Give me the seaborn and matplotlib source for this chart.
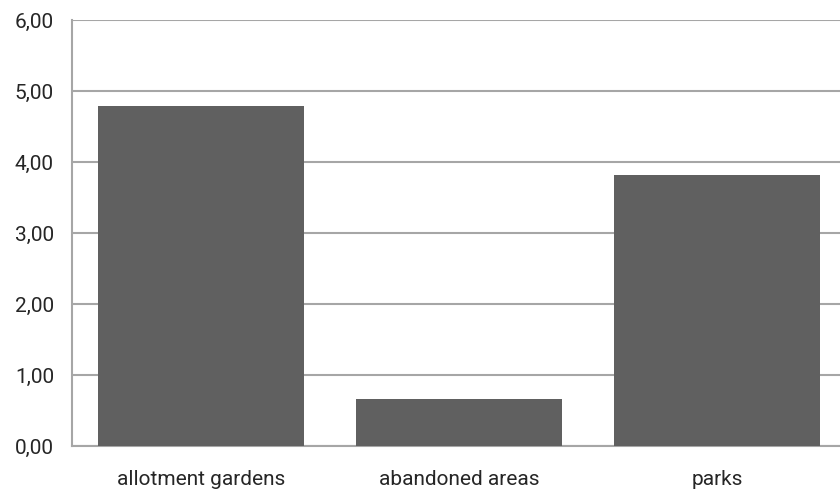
import matplotlib
matplotlib.use('Agg')
import matplotlib.pyplot as plt
import seaborn as sns
import pandas as pd

# chart data
categories = ['allotment gardens', 'abandoned areas', 'parks']
values = [4.79, 0.66, 3.82]
y_ticks = [0, 1, 2, 3, 4, 5, 6]
y_labels = ['0,00', '1,00', '2,00', '3,00', '4,00', '5,00', '6,00']

sns.set_theme(style="white")
plt.rcParams['font.family'] = ['Roboto', 'DejaVu Sans']

df = pd.DataFrame({'area': categories, 'value': values})

fig = plt.figure(figsize=(8.4, 4.92), dpi=100)
ax = fig.add_axes([72 / 840, 46 / 492, 774 / 840, 426 / 492])

sns.barplot(data=df, x='area', y='value', color='#606060', saturation=1,
            width=0.8, linewidth=0, ax=ax, zorder=3)

ax.set_xlim(-0.5, 2.5)
ax.set_ylim(0, 6)
ax.set_yticks(y_ticks)
ax.set_yticklabels(y_labels)
ax.yaxis.grid(True, color='#a6a6a6', linewidth=1.5, zorder=0)
ax.set_axisbelow(True)

for s in ['top', 'right']:
    ax.spines[s].set_visible(False)
for s in ['left', 'bottom']:
    ax.spines[s].set_color('#a6a6a6')
    ax.spines[s].set_linewidth(1.5)

ax.set_xlabel('')
ax.set_ylabel('')
ax.tick_params(axis='y', length=0, pad=13, labelsize=15, labelcolor='#262626')
ax.tick_params(axis='x', length=0, pad=17, labelsize=15, labelcolor='#262626')

fig.savefig('out.png', dpi=100)
